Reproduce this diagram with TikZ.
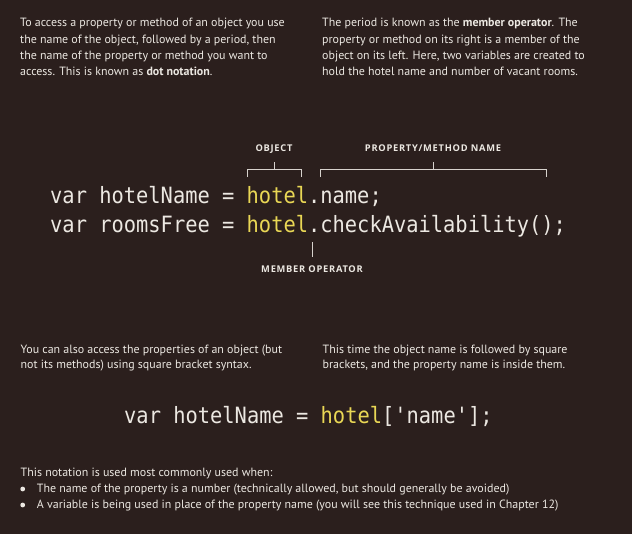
\documentclass[tikz,border=0pt]{standalone}
\usepackage{fontspec}
\setmainfont{PT Sans}
\setmonofont{DejaVu Sans Mono}
\newfontfamily\lblfont[LetterSpace=8]{Open Sans}
\definecolor{bg}{RGB}{43,31,29}
\definecolor{txt}{RGB}{236,232,226}
\definecolor{hy}{RGB}{233,215,85}
\definecolor{ln}{RGB}{215,210,205}
\newcommand{\hy}[1]{{\color{hy}#1}}
\newcommand{\tallcode}[1]{\scalebox{1}[1.1]{#1}}
\begin{document}
\begin{tikzpicture}[x=1pt,y=-1pt,
  body/.style={anchor=base west, inner sep=0, text=txt, font=\fontsize{11.95}{14}\selectfont},
  codeline/.style={anchor=base west, inner sep=0, text=txt, font=\fontsize{20.4}{24}\ttfamily},
  lbl/.style={anchor=base, inner sep=0, text=txt, font=\fontsize{9.3}{11}\lblfont\bfseries},
  brk/.style={draw=ln, line width=0.9pt}]
\fill[bg] (0,0) rectangle (632,534);
\useasboundingbox (0,0) rectangle (632,534);
% paragraph 1
\node[body] (p1a) at (20,27) {To access a property or method of an object you use};
\node[body] (p1b) at (20,43.3) {the name of the object, followed by a period, then};
\node[body] (p1c) at (20,59.7) {the name of the property or method you want to};
\node[body] (p1d) at (20,76) {access. This is known as \textbf{dot notation}.};
% paragraph 2
\node[body] (p2a) at (322,27) {The period is known as the \textbf{member operator}. The};
\node[body] (p2b) at (322,43.3) {property or method on its right is a member of the};
\node[body] (p2c) at (322,59.7) {object on its left. Here, two variables are created to};
\node[body] (p2d) at (322,76) {hold the hotel name and number of vacant rooms.};
% labels
\node[lbl] (lobj) at (274,151.7) {OBJECT};
\node[lbl] (lprop) at (433,151.7) {PROPERTY/METHOD NAME};
\node[lbl] (lmem) at (312,273) {MEMBER OPERATOR};
% brackets
\draw[brk] (247,177) -- (247,169) -- (301,169) -- (301,177);
\draw[brk] (274,169) -- (274,162);
\draw[brk] (320,177) -- (320,169) -- (546,169) -- (546,177);
\draw[brk] (433,169) -- (433,162);
\draw[brk] (312,242) -- (312,257);
% code
\node[codeline] (c1) at (50,204) {\tallcode{var hotelName = \hy{hotel}.name;}};
\node[codeline] (c2) at (50,233) {\tallcode{var roomsFree = \hy{hotel}.checkAvailability();}};
% paragraph 3 and 4
\node[body] (p3a) at (20.5,353.3) {You can also access the properties of an object (but};
\node[body] (p3b) at (20.5,368.3) {not its methods) using square bracket syntax.};
\node[body] (p4a) at (322.5,353.3) {This time the object name is followed by square};
\node[body] (p4b) at (322.5,368.3) {brackets, and the property name is inside them.};
\node[codeline] (c3) at (124,424) {\tallcode{var hotelName = \hy{hotel}['name'];}};
% bottom
\node[body] (p5) at (20.5,476.7) {This notation is used most commonly used when:};
\fill[txt] (22.7,489) circle (2.4);
\node[body] (b1) at (36.7,492.7) {The name of the property is a number (technically allowed, but should generally be avoided)};
\fill[txt] (22.7,505) circle (2.4);
\node[body] (b2) at (36.7,508.3) {A variable is being used in place of the property name (you will see this technique used in Chapter 12)};
\end{tikzpicture}
\end{document}
